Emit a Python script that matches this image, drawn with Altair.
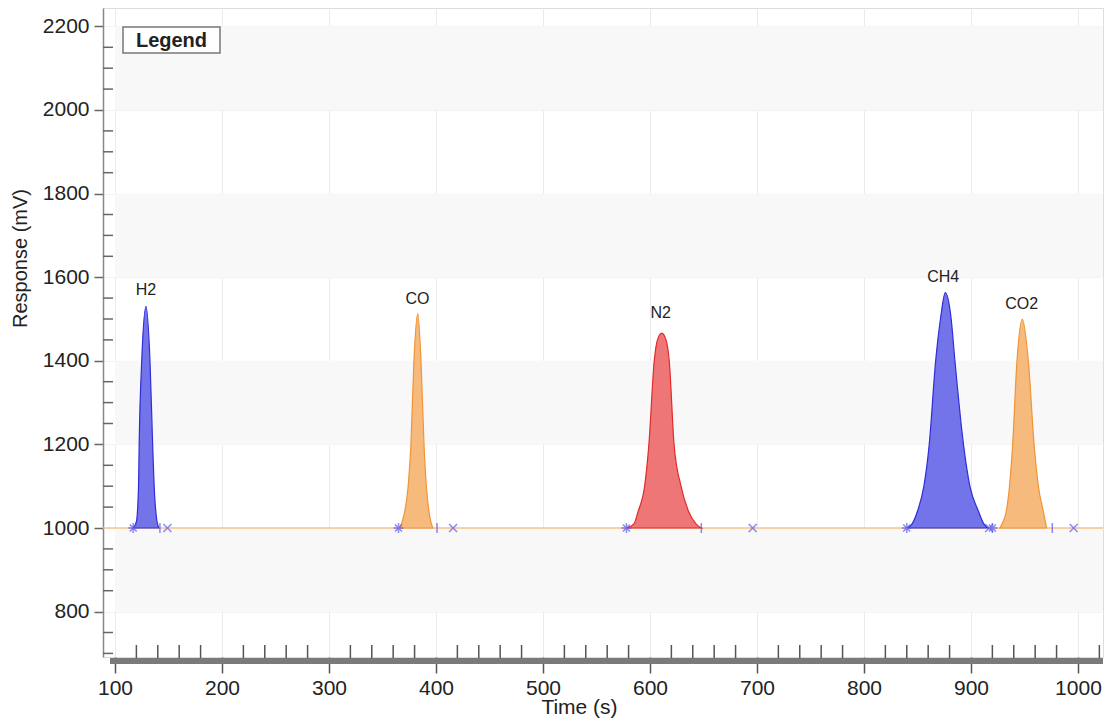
import altair as alt
import pandas as pd

# ---- axis ranges / ticks ----
X_DOMAIN = [88.8, 1023.4]
Y_DOMAIN = [691.4, 2244]
x_major = [100, 200, 300, 400, 500, 600, 700, 800, 900, 1000]
y_major = [800, 1000, 1200, 1400, 1600, 1800, 2000, 2200]
x_minor = [v for v in range(100, 1021, 20) if v % 100 != 0]
y_minor = [v for v in range(700, 2241, 50) if v % 200 != 0]
band_lo = [800, 1200, 1600, 2000]
band_hi = [1000, 1400, 1800, 2200]
baseline = 1000

# ---- peaks (time s, response mV) ----
h2_t = [117, 120, 122, 122.6, 125, 129, 132.7, 135.2, 137, 139, 141]
h2_r = [1000, 1015, 1100, 1200, 1400, 1530, 1400, 1200, 1080, 1020, 1000]
co_t = [366, 370, 374, 376.6, 379.4, 383, 386, 388.8, 391, 394, 397]
co_r = [1000, 1030, 1100, 1200, 1400, 1513, 1400, 1200, 1100, 1030, 1000]
n2_t = [578, 585, 589, 595, 599, 604, 607, 611, 615, 618, 622.5, 629, 636, 643, 648]
n2_r = [1000, 1010, 1040, 1100, 1200, 1400, 1450, 1466, 1450, 1400, 1200, 1100, 1040, 1010, 1000]
ch4_t = [840, 845, 850, 856, 861, 867, 871.5, 876, 881.5, 885, 893, 899, 907, 912, 916]
ch4_r = [1000, 1010, 1040, 1100, 1200, 1400, 1500, 1563, 1500, 1400, 1200, 1100, 1040, 1010, 1000]
co2_t = [927, 930, 933, 936, 939, 943, 948, 953.6, 959, 963, 967.6, 970.7]
co2_r = [1000, 1015, 1040, 1100, 1200, 1400, 1500, 1400, 1200, 1100, 1040, 1000]

peak_names = ["H2", "CO", "N2", "CH4", "CO2"]
peak_series = [(h2_t, h2_r), (co_t, co_r), (n2_t, n2_r), (ch4_t, ch4_r), (co2_t, co2_r)]
peak_fill = ["#7373ea", "#f6ba7c", "#ef7676", "#7373ea", "#f6ba7c"]
peak_stroke = ["#2e2ed8", "#f09436", "#e02a2a", "#2e2ed8", "#f09436"]
label_t = [129, 382.7, 610, 874, 947.4]
label_r = [1569, 1548, 1514, 1600, 1536]

# integration markers on the baseline
star_t = [117, 365, 578, 840, 920]
bar_t = [142, 401, 648, 976]
cross_t = [149, 416, 696, 917, 996]

W, H = 1000, 649
xs = alt.Scale(domain=X_DOMAIN, nice=False, zero=False)
ys = alt.Scale(domain=Y_DOMAIN, nice=False, zero=False)

bands = alt.Chart(pd.DataFrame({"lo": band_lo, "hi": band_hi})).mark_rect(
    color="#f8f8f8"
).encode(
    y=alt.Y("lo:Q", scale=ys), y2="hi:Q", x=alt.value(12), x2=alt.value(W)
)

axes_layer = alt.Chart(pd.DataFrame({"t": [100], "r": [1000]})).mark_point(opacity=0).encode(
    x=alt.X("t:Q", scale=xs, title="Time (s)",
            axis=alt.Axis(values=x_major, format="d", grid=True, gridColor="#ebebeb", gridWidth=1,
                          domain=False, tickSize=16, tickColor="#555555", tickWidth=1.5,
                          labelFontSize=21, labelColor="#222222", labelPadding=4,
                          labelFont="Liberation Sans", titleFont="Liberation Sans",
                          titleFontSize=21, titleFontWeight="normal", titleColor="#222222",
                          titleX=476, titleY=39, titleBaseline="top", titleAnchor="start",
                          titleAlign="center", labelFlush=False)),
    y=alt.Y("r:Q", scale=ys, title="Response (mV)",
            axis=alt.Axis(values=y_major, format="d", grid=True, gridColor="#f2f2f2", gridWidth=1,
                          domainColor="#888888", domainWidth=1.5, tickSize=9,
                          tickColor="#666666", tickWidth=1.5, labelFontSize=21,
                          labelColor="#222222", labelPadding=5, labelFont="Liberation Sans",
                          titleFont="Liberation Sans", titleFontSize=20,
                          titleFontWeight="normal", titleColor="#222222",
                          titleX=-73, titleY=250, titleAnchor="start", titleAlign="center",
                          labelFlush=False)),
)

base_line = alt.Chart(pd.DataFrame({"b": [baseline]})).mark_rule(
    color="#f5c28e", strokeWidth=1.6
).encode(y=alt.Y("b:Q", scale=ys), x=alt.value(0), x2=alt.value(W))

peak_layers = []
for name, (tt, rr), fc, sc in zip(peak_names, peak_series, peak_fill, peak_stroke):
    df = pd.DataFrame({"t": tt, "r": rr, "b": [baseline] * len(tt)})
    peak_layers.append(
        alt.Chart(df).mark_area(color=fc, opacity=1, interpolate="monotone",
                                stroke=sc, strokeWidth=1.2).encode(
            x=alt.X("t:Q", scale=xs), y=alt.Y("r:Q", scale=ys), y2="b:Q"
        )
    )

labels = alt.Chart(pd.DataFrame({"t": label_t, "r": label_r, "n": peak_names})).mark_text(
    fontSize=16, font="Liberation Sans", color="#222222"
).encode(x=alt.X("t:Q", scale=xs), y=alt.Y("r:Q", scale=ys), text="n:N")

STAR = "M-1,0L1,0M0,-1L0,1M-0.7,-0.7L0.7,0.7M-0.7,0.7L0.7,-0.7"
BAR = "M0,-1L0,1"
CROSS = "M-0.8,-0.8L0.8,0.8M-0.8,0.8L0.8,-0.8"
marker_layers = []
for tt, shp in [(star_t, STAR), (bar_t, BAR), (cross_t, CROSS)]:
    df = pd.DataFrame({"t": tt, "b": [baseline] * len(tt)})
    marker_layers.append(
        alt.Chart(df).mark_point(shape=shp, filled=False, stroke="#5a5aee",
                                 strokeWidth=1.5, size=100).encode(
            x=alt.X("t:Q", scale=xs), y=alt.Y("b:Q", scale=ys)
        )
    )

minor_x = alt.Chart(pd.DataFrame({"t": x_minor})).mark_rule(
    color="#555555", strokeWidth=1.5
).encode(x=alt.X("t:Q", scale=xs), y=alt.value(H - 12), y2=alt.value(H + 1))

minor_y = alt.Chart(pd.DataFrame({"r": y_minor})).mark_rule(
    color="#666666", strokeWidth=1.5
).encode(y=alt.Y("r:Q", scale=ys), x=alt.value(0), x2=alt.value(10))

thick_bar = alt.Chart(pd.DataFrame({"k": [0]})).mark_rule(
    color="#7a7a7a", strokeWidth=6
).encode(x=alt.value(7), x2=alt.value(W), y=alt.value(H + 4))

legend_box = alt.Chart(pd.DataFrame({"k": [0]})).mark_rect(
    fill="white", stroke="#777777", strokeWidth=1.5
).encode(x=alt.value(20), x2=alt.value(117), y=alt.value(19), y2=alt.value(45))

legend_text = alt.Chart(pd.DataFrame({"k": ["Legend"]})).mark_text(
    fontSize=20, fontWeight="bold", font="Liberation Sans", color="#222222"
).encode(x=alt.value(68.5), y=alt.value(32.5), text="k:N")

chart = alt.layer(
    bands, axes_layer, base_line, *peak_layers, labels, *marker_layers,
    minor_x, minor_y, thick_bar, legend_box, legend_text
).properties(
    width=W, height=H,
    autosize=alt.AutoSizeParams(type="none"),
    padding={"left": 103, "top": 8, "right": 2, "bottom": 67},
).configure_view(stroke="#999999", strokeWidth=1.5).configure(background="white")

chart.save("out.html", embed_options={"renderer": "svg", "actions": False})
